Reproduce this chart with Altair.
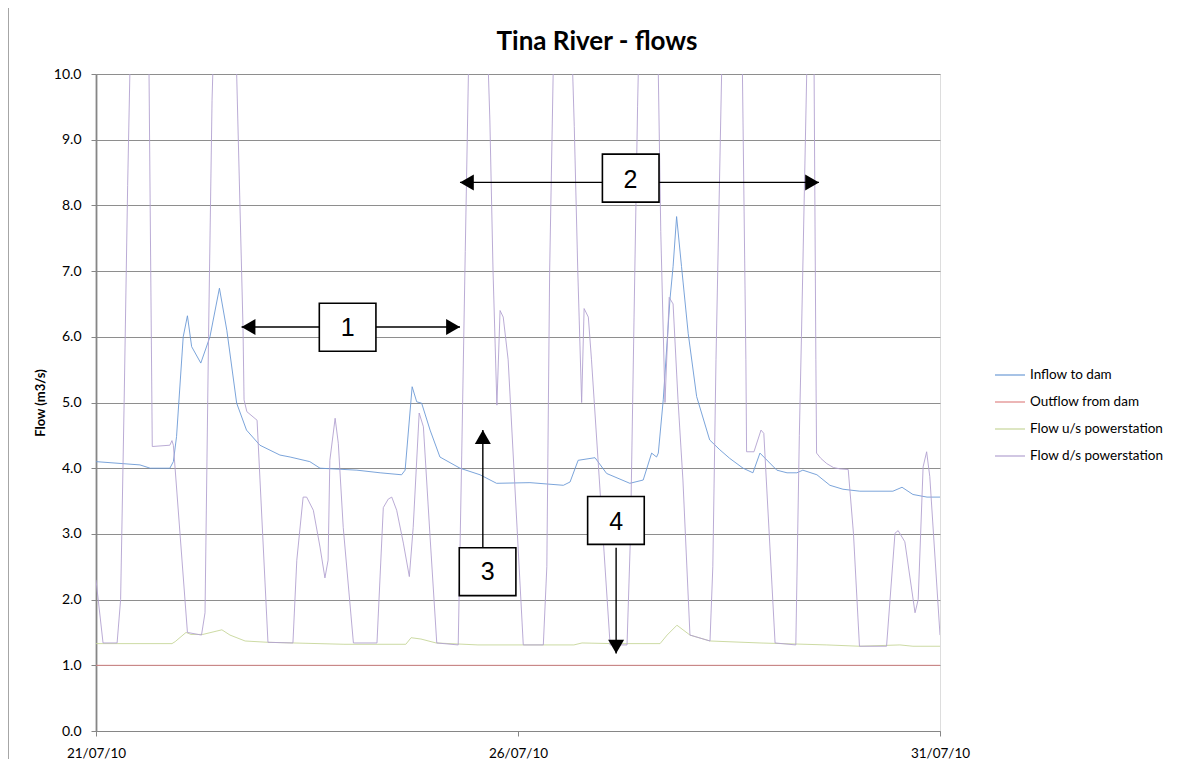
import altair as alt
import pandas as pd

START = pd.Timestamp("2010-07-21")

series_names = ["Inflow to dam", "Outflow from dam", "Flow u/s powerstation", "Flow d/s powerstation"]
series_colors = ["#6c9ad6", "#e08686", "#c6d699", "#b2a2d0"]

# Inflow to dam (hours after 21/07/10 00:00, m3/s)
inflow_hours = [0, 12.5, 15.4, 21.0, 22.0, 22.9, 24.8, 26.0, 27.2, 29.8, 32.4, 35.1, 37.2, 40.0,
                42.8, 46.6, 52.3, 55.2, 60.8, 63.7, 74.2, 80.8, 86.9, 87.9, 89.9, 91.2, 92.6,
                95.0, 97.8, 103.5, 109.2, 113.9, 123.4, 132.9, 134.8, 137.1, 141.9, 145.2,
                151.8, 155.6, 158.0, 159.4, 159.9, 161.3, 163.2, 164.1, 165.1, 166.5, 168.4,
                170.8, 174.5, 177.4, 180.2, 184.0, 186.8, 188.8, 193.6, 196.5, 199.3, 201.0,
                205.0, 208.7, 212.4, 217.2, 226.6, 229.2, 232.3, 236.3, 240.0]
inflow_flow = [4.10, 4.05, 4.00, 4.00, 4.10, 4.48, 6.00, 6.32, 5.85, 5.60, 6.00, 6.74, 6.10, 4.99,
               4.58, 4.35, 4.20, 4.17, 4.10, 4.00, 3.97, 3.93, 3.90, 3.97, 5.24, 5.01, 4.99,
               4.58, 4.17, 4.00, 3.90, 3.77, 3.78, 3.74, 3.79, 4.12, 4.16, 3.92,
               3.77, 3.82, 4.23, 4.17, 4.23, 5.04, 6.56, 7.07, 7.83, 7.07, 6.05,
               5.09, 4.43, 4.28, 4.15, 4.00, 3.93, 4.23, 3.97, 3.93, 3.93, 3.97,
               3.90, 3.74, 3.68, 3.65, 3.65, 3.71, 3.60, 3.56, 3.56]

# Outflow from dam
outflow_hours = [0, 240.0]
outflow_flow = [1.0, 1.0]

# Flow u/s powerstation
us_hours = [0, 21.6, 22.5, 25.6, 27.0, 30.4, 35.8, 38.1, 42.4, 48.9, 70.5, 88.1, 89.6, 92.4,
            96.7, 108.6, 135.9, 138.2, 147.0, 160.4, 162.4, 165.2, 168.9, 174.6, 188.8, 207.8,
            217.2, 228.6, 232.3, 240.0]
us_flow = [1.33, 1.33, 1.36, 1.50, 1.47, 1.47, 1.54, 1.46, 1.37, 1.35, 1.32, 1.32, 1.42, 1.40,
           1.34, 1.31, 1.31, 1.34, 1.33, 1.33, 1.46, 1.61, 1.46, 1.37, 1.34, 1.31,
           1.29, 1.31, 1.29, 1.29]

# Flow d/s powerstation (peaks run above the 10.0 axis limit)
ds_hours = [0, 2.0, 6.0, 7.0, 8.0, 9.0, 10.0, 12.5, 15.0, 16.0, 21.0, 21.6, 22.0, 26.0,
            30.0, 31.0, 32.0, 33.0, 34.0, 37.0, 39.0, 40.0, 41.8, 42.1, 42.9, 45.8, 48.9,
            56.0, 57.1, 58.9, 59.9, 61.8, 63.7, 65.1, 66.0, 66.5, 68.0, 68.9, 70.3, 73.2,
            79.9, 81.7, 83.1, 84.1, 85.5, 87.4, 89.1, 90.2, 91.9, 93.1, 95.0, 96.9,
            103.0, 104.0, 105.0, 106.0, 107.0, 110.0, 111.0, 112.0, 112.9, 114.0, 114.9,
            115.8, 117.2, 121.5, 127.2, 128.2, 129.0, 130.0, 131.0, 134.0, 135.0, 136.0,
            137.0, 138.1, 138.8, 140.0, 140.9, 146.2, 151.0, 152.0, 153.0, 154.0, 155.0,
            158.0, 159.2, 159.9, 160.6, 161.8, 163.0, 164.1, 165.5, 166.9, 168.9, 174.6,
            175.4, 176.3, 177.9, 179.0, 182.5, 183.6, 184.8, 185.0, 187.1, 189.1, 189.9,
            193.1, 199.0, 200.0, 200.6, 202.1, 202.8, 203.6, 204.2, 204.7, 204.9, 206.1,
            207.8, 209.7, 211.5, 213.9, 215.4, 217.1, 224.8, 227.2, 228.1, 230.0, 232.9,
            233.8, 235.2, 236.2, 237.1, 240.0]
ds_flow = [2.30, 1.34, 1.34, 2.00, 5.00, 8.30, 11.0, 12.0, 10.5, 4.33, 4.35, 4.42, 4.35, 1.50,
           1.46, 1.80, 6.00, 9.60, 11.5, 12.0, 11.5, 10.0, 6.15, 5.04, 4.86, 4.73, 1.35,
           1.34, 2.60, 3.56, 3.56, 3.36, 2.80, 2.33, 2.60, 4.12, 4.76, 4.38, 3.10, 1.34,
           1.34, 3.40, 3.53, 3.56, 3.36, 2.86, 2.35, 3.10, 4.84, 4.63, 2.95, 1.34,
           1.31, 4.20, 7.30, 10.3, 12.0, 12.0, 11.0, 9.30, 7.00, 4.96, 6.40,
           6.30, 5.65, 1.31, 1.31, 2.50, 7.00, 10.0, 12.0, 12.0, 11.0, 9.20,
           7.00, 5.00, 6.43, 6.30, 5.65, 1.31, 1.31, 3.00, 6.30, 9.50, 12.0,
           12.0, 11.0, 10.0, 7.60, 5.00, 6.60, 6.50, 5.04, 3.82, 1.46, 1.37,
           2.50, 5.65, 10.0, 12.0, 12.0, 11.0, 5.65, 4.25, 4.25, 4.58, 4.53,
           1.34, 1.31, 4.50, 6.00, 10.0, 11.5, 11.5, 10.0, 5.65, 4.23, 4.15,
           4.07, 4.01, 3.99, 3.98, 3.00, 1.29, 1.29, 3.01, 3.05, 2.88, 1.80,
           2.00, 4.02, 4.25, 3.87, 1.46]

# Annotation boxes (hours, flow) and their numbers
box_labels = ["1", "2", "3", "4"]
box_h0 = [63.5, 144.0, 103.3, 139.8]
box_h1 = [79.6, 160.1, 119.4, 155.9]
box_v0 = [5.78, 8.05, 2.06, 2.84]
box_v1 = [6.51, 8.78, 2.79, 3.57]
box_text_h = [71.6, 152.0, 111.4, 147.9]
box_text_v = [6.15, 8.40, 2.43, 3.20]

# Arrows: start (at box edge) and tip
arrow_dir = ["left", "right", "left", "right", "up", "down"]
arrow_h0 = [63.5, 79.6, 144.0, 160.1, 110.0, 147.9]
arrow_v0 = [6.15, 6.15, 8.35, 8.35, 2.79, 2.79]
arrow_h1 = [41.4, 103.5, 103.5, 205.6, 110.0, 147.9]
arrow_v1 = [6.15, 6.15, 8.35, 8.35, 4.58, 1.18]


def to_time(hours):
    return [START + pd.Timedelta(hours=h) for h in hours]


rows = []
for name, hs, vs in [
    (series_names[0], inflow_hours, inflow_flow),
    (series_names[1], outflow_hours, outflow_flow),
    (series_names[2], us_hours, us_flow),
    (series_names[3], ds_hours, ds_flow),
]:
    for i, (t, v) in enumerate(zip(to_time(hs), vs)):
        rows.append({"series": name, "time": t, "flow": v, "order": i})
lines_df = pd.DataFrame(rows)

boxes_df = pd.DataFrame({
    "label": box_labels,
    "t0": to_time(box_h0), "t1": to_time(box_h1),
    "v0": box_v0, "v1": box_v1,
    "tt": to_time(box_text_h), "tv": box_text_v,
})
arrows_df = pd.DataFrame({
    "dir": arrow_dir,
    "t0": to_time(arrow_h0), "v0": arrow_v0,
    "t1": to_time(arrow_h1), "v1": arrow_v1,
})

FONT = "Lato"
W, H = 844, 657

x_scale = alt.Scale(domain=[alt.DateTime(year=2010, month=7, date=21),
                            alt.DateTime(year=2010, month=7, date=31)])
y_scale = alt.Scale(domain=[0, 10], nice=False)

x_axis = alt.Axis(
    values=[alt.DateTime(year=2010, month=7, date=d) for d in (21, 26, 31)],
    format="%d/%m/%y", title=None, grid=False, labelFlush=False,
    labelFont=FONT, labelFontSize=13.5, labelColor="#000000", labelPadding=10,
    tickSize=5, tickColor="#868686", domainColor="#868686", domainWidth=1.2,
)
y_axis = alt.Axis(
    values=list(range(0, 11)), format=".1f", title="Flow (m3/s)",
    grid=True, gridColor="#8e8e8e", gridWidth=1,
    labelFont=FONT, labelFontSize=14, labelColor="#000000", labelPadding=10,
    tickSize=5, tickColor="#868686", domainColor="#868686", domainWidth=1.8,
    titleFont=FONT, titleFontSize=13, titleFontWeight="bold", titleColor="#000000",
    titleX=-56, titleY=H / 2, titleAngle=-90, titleBaseline="middle", titleAlign="center",
)

lines = alt.Chart(lines_df).mark_line(clip=True, strokeWidth=0.9).encode(
    x=alt.X("time:T", scale=x_scale, axis=x_axis),
    y=alt.Y("flow:Q", scale=y_scale, axis=y_axis),
    color=alt.Color(
        "series:N",
        scale=alt.Scale(domain=series_names, range=series_colors),
        legend=alt.Legend(
            orient="none", legendX=898, legendY=285, title=None,
            symbolType="stroke", symbolSize=900, symbolStrokeWidth=1.2,
            labelFont=FONT, labelFontSize=13.5, labelColor="#000000",
            labelOffset=4, rowPadding=4, padding=0,
        ),
    ),
    order="order:Q",
)

shafts = alt.Chart(arrows_df).mark_rule(color="#000000", strokeWidth=1.4).encode(
    x="t0:T", x2="t1:T", y="v0:Q", y2="v1:Q",
)

heads = []
for d, shape, dx, dy in [("left", "triangle-left", 6.9, 0), ("right", "triangle-right", -6.9, 0),
                         ("up", "triangle-up", 0, 6.9), ("down", "triangle-down", 0, -6.9)]:
    heads.append(
        alt.Chart(arrows_df).transform_filter(alt.datum.dir == d)
        .mark_point(shape=shape, filled=True, size=256, color="#000000", opacity=1,
                    xOffset=dx, yOffset=dy)
        .encode(x="t1:T", y="v1:Q")
    )

boxes = alt.Chart(boxes_df).mark_rect(fill="#ffffff", stroke="#000000", strokeWidth=1.6).encode(
    x="t0:T", x2="t1:T", y="v0:Q", y2="v1:Q",
)
box_text = alt.Chart(boxes_df).mark_text(
    font="Liberation Sans", fontSize=25, color="#000000", baseline="middle", align="center", dy=1,
).encode(x="tt:T", y="tv:Q", text="label:N")

frame_top = alt.Chart(boxes_df).mark_rule(color="#a6a6a6", strokeWidth=1).encode(
    x=alt.value(-88), x2=alt.value(W + 240), y=alt.value(-66.5))
frame_left = alt.Chart(boxes_df).mark_rule(color="#a6a6a6", strokeWidth=1).encode(
    x=alt.value(-87.5), y=alt.value(-66.5), y2=alt.value(H + 40))

chart = alt.layer(
    frame_top, frame_left, lines, shafts, *heads, boxes, box_text
).properties(
    width=W, height=H,
    title=alt.TitleParams(
        "Tina River - flows", font=FONT, fontSize=26, fontWeight="bold", color="#000000",
        anchor="middle", frame="group", dx=79, offset=-48,
    ),
    autosize=alt.AutoSizeParams(type="none"),
    padding={"left": 88, "top": 66, "right": 230, "bottom": 28},
).configure_view(strokeWidth=0).configure(background="#ffffff")

chart.save("out.html", embed_options={"renderer": "svg", "actions": False})
